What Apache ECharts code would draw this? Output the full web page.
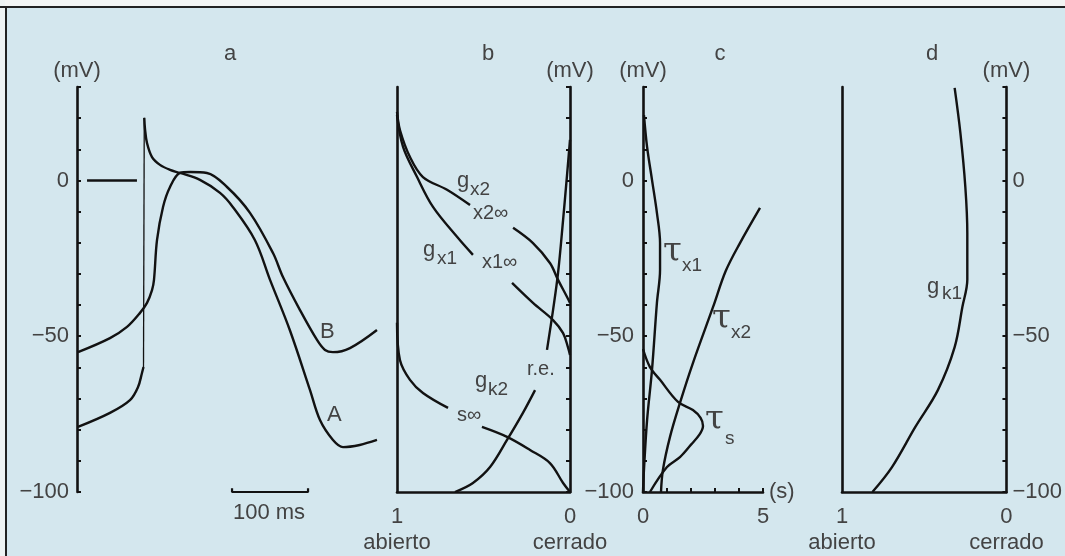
<!DOCTYPE html>
<html><head><meta charset="utf-8">
<script src="https://cdn.jsdelivr.net/npm/echarts@6/dist/echarts.min.js"></script>
<style>html,body{margin:0;padding:0;background:#d4e7ee}#c{width:1065px;height:556px}</style>
</head><body><div id="c"></div>
<script>
// ---------- DATA ----------
// Panel a: action potentials, [time (ms), membrane potential (mV)]
const curveA_foot = [[1.3,-79.1],[43.4,-74.6],[69.7,-70.5],[80.3,-66.3],[85.5,-61.8],[87.5,-59.9]];
const curveA_plateau = [[88.5,20.1],[89.5,16.5],[92.1,12.0],[98.7,7.5],[109.2,5.0],[122.4,3.4],[135.5,2.4],[161.8,0.2],[188.2,-4.0],[205,-8.5],[234,-19.1],[254,-31.9],[280,-48.0],[306.6,-67.3],[319.7,-76.9],[336.8,-83.3],[350,-85.6],[372,-84.9],[394.7,-83.3]];
const curveB = [[1.3,-55.1],[43.4,-50.6],[65.8,-47.0],[82.9,-42.5],[92.1,-39.3],[98.7,-35.2],[101.3,-31.9],[105.3,-19.1],[113.2,-8.5],[122.4,-2.1],[135.5,2.4],[148.7,2.7],[171,2.4],[197.4,-2.1],[227.6,-10.4],[257.9,-23.3],[271,-31.0],[293.4,-41.6],[315.8,-51.2],[326.3,-54.4],[336.8,-55.1],[359.2,-53.8],[394.7,-48.0]];
const zeroLine = [[13.2,0],[78.9,0]];
const scaleBarMs = [204, 304];      // 100 ms scale bar
const scaleBarLevel = -100;

// Panel b: steady-state / conductance curves, [fraction open (1..0), mV]
const gx2_a = [[1,22],[0.983,16.2],[0.925,7.5],[0.85,1.1],[0.711,-3.0],[0.578,-7.9]];
const gx2_b = [[0.329,-15.2],[0.214,-20.1],[0.116,-26.5],[0.069,-31.9],[0.017,-37.4],[0,-39.3]];
const gx1_a = [[1,21],[0.965,10.8],[0.884,1.1],[0.792,-8.5],[0.653,-18.1],[0.561,-23.9]];
const gx1_b = [[0.335,-32.9],[0.214,-39.3],[0.098,-44.8],[0.04,-49.0],[0.012,-53.5],[0,-56.0]];
const reCurve = [[0.133,-54.4],[0.098,-41.6],[0.069,-29.7],[0.04,-12.7],[0.017,1.8],[0,13.0]];
const sInf_a = [[1,-45.7],[0.983,-57.6],[0.925,-64.0],[0.85,-68.2],[0.705,-73.0]];
const sInf_b = [[0.509,-79.1],[0.364,-82.3],[0.231,-86.5],[0.116,-90.7],[0.04,-97.1],[0,-100]];
const gk2 = [[0.665,-100],[0.561,-97.1],[0.462,-92.0],[0.364,-83.3],[0.272,-74.6],[0.202,-67.3]];

// Panel c: time constants, [s, mV]
const tauX1 = [[0.04,21.0],[0.17,10.8],[0.375,0.2],[0.58,-10.4],[0.71,-20.1],[0.71,-28.7],[0.58,-39.3],[0.375,-60.8],[0.17,-76.9],[0.04,-92.9],[0,-100]];
const tauX2 = [[4.875,-8.8],[4.04,-20.1],[3.45,-29.0],[2.92,-40.6],[2.08,-58.6],[1.54,-71.4],[1.125,-82.3],[0.83,-92.9],[0.75,-100]];
const tauS = [[0,-54.1],[0.29,-59.9],[0.71,-64.0],[1.46,-71.1],[2.08,-73.7],[2.4,-76.2],[2.5,-78.8],[2.35,-81.6],[2.0,-84.8],[1.54,-88.8],[1.0,-92.0],[0.29,-100]];

// Panel d: gK1, [fraction open, mV]
const gk1 = [[0.315,29.7],[0.28,15.2],[0.25,-2.1],[0.238,-16.9],[0.238,-31.9],[0.268,-40.6],[0.315,-53.5],[0.417,-67.3],[0.554,-79.1],[0.696,-92.0],[0.815,-100]];

// Tick labels
const mVLabels = [0, -50, -100];
const fracLabels = {1: '1\nabierto', 0: '0\ncerrado'};
const secLabels = [0, 5];

// ---------- STYLE ----------
const INK = '#121212', TXT = '#434343';
const FONT = 'Liberation Sans, Arial, sans-serif';
const fmtMV = v => mVLabels.indexOf(v) >= 0 ? (v < 0 ? '\u2212' + Math.abs(v) : String(v)) : '';
const axLine = {show: true, onZero: false, lineStyle: {color: INK, width: 2.6}};
const ticks = {show: true, inside: true, length: 4, lineStyle: {color: INK, width: 2}};
const nameStyle = {color: TXT, fontSize: 22, fontFamily: FONT};

function mvAxis(grid, pos, opts) {
  return Object.assign({
    type: 'value', gridIndex: grid, position: pos, min: -100, max: 30, interval: 10,
    axisLine: axLine, axisTick: ticks, splitLine: {show: false},
    axisLabel: {show: false}
  }, opts || {});
}
function fracAxis(grid) {
  return {
    type: 'value', gridIndex: grid, position: 'bottom', min: 0, max: 1, interval: 1, inverse: true,
    axisLine: axLine, axisTick: {show: false}, splitLine: {show: false},
    axisLabel: {show: true, margin: 12, color: TXT, fontSize: 22, fontFamily: FONT, lineHeight: 26,
      showMinLabel: true, showMaxLabel: true, formatter: v => fracLabels[v] || ''}
  };
}
function curve(x, y, data, w) {
  return {type: 'line', xAxisIndex: x, yAxisIndex: y, data: data, smooth: 0.35, showSymbol: false,
    symbol: 'none', clip: false, silent: true, lineStyle: {color: INK, width: w || 2.4}};
}

const chart = echarts.init(document.getElementById('c'), null, {renderer: 'canvas'});

const upstroke = [curveA_foot[curveA_foot.length - 1], curveA_plateau[0]];
const scaleBar = [[scaleBarMs[0], scaleBarLevel + 1.2], [scaleBarMs[0], scaleBarLevel], [scaleBarMs[1], scaleBarLevel], [scaleBarMs[1], scaleBarLevel + 1.2]];

function txt(x, y, t, size, align, family) {
  return {type: 'text', silent: true, style: {x: x, y: y, text: t, fill: TXT,
    font: (size || 22) + 'px ' + (family || FONT), align: align || 'left', verticalAlign: 'middle'}};
}
const TAU = 'DejaVu Serif, serif';

chart.setOption({
  animation: false,
  backgroundColor: '#d4e7ee',
  grid: [
    {left: 77, top: 87, width: 304, height: 405},
    {left: 397, top: 87, width: 173, height: 405},
    {left: 643, top: 87, width: 120, height: 405},
    {left: 842, top: 87, width: 168, height: 405}
  ],
  xAxis: [
    {type: 'value', gridIndex: 0, min: 0, max: 400, show: false},
    fracAxis(1),
    {type: 'value', gridIndex: 2, position: 'bottom', min: 0, max: 5, interval: 1,
      axisLine: axLine, axisTick: ticks, splitLine: {show: false},
      name: '(s)', nameLocation: 'end', nameGap: 6, nameTextStyle: Object.assign({padding: [0, 0, 6, 0]}, nameStyle),
      axisLabel: {show: true, margin: 14, color: TXT, fontSize: 22, fontFamily: FONT,
        formatter: v => secLabels.indexOf(v) >= 0 ? String(v) : ''}},
    fracAxis(3)
  ],
  yAxis: [
    mvAxis(0, 'left', {name: '(mV)', nameGap: 5, nameTextStyle: nameStyle,
      axisLabel: {show: true, margin: 8, color: TXT, fontSize: 22, fontFamily: FONT, formatter: fmtMV}}),
    mvAxis(1, 'left', {axisTick: {show: false}}),
    mvAxis(1, 'right', {name: '(mV)', nameGap: 5, nameTextStyle: nameStyle}),
    mvAxis(2, 'left', {name: '(mV)', nameGap: 5, nameTextStyle: nameStyle,
      axisLabel: {show: true, margin: 9, color: TXT, fontSize: 22, fontFamily: FONT, formatter: fmtMV}}),
    mvAxis(3, 'left', {axisTick: {show: false}}),
    mvAxis(3, 'right', {name: '(mV)', nameGap: 5, nameTextStyle: nameStyle,
      axisLabel: {show: true, margin: 6, color: TXT, fontSize: 22, fontFamily: FONT, formatter: fmtMV}})
  ],
  series: [
    curve(0, 0, curveA_foot),
    curve(0, 0, upstroke, 1.3),
    curve(0, 0, curveA_plateau),
    curve(0, 0, curveB),
    Object.assign(curve(0, 0, zeroLine), {smooth: false}),
    Object.assign(curve(0, 0, scaleBar, 2.2), {smooth: false}),
    curve(1, 1, gx2_a), curve(1, 1, gx2_b),
    curve(1, 1, gx1_a), curve(1, 1, gx1_b),
    curve(1, 1, reCurve),
    curve(1, 1, sInf_a), curve(1, 1, sInf_b),
    curve(1, 1, gk2),
    curve(2, 3, tauX1), curve(2, 3, tauX2), curve(2, 3, tauS),
    curve(3, 4, gk1)
  ],
  graphic: [
    {type: 'rect', silent: true, shape: {x: 0, y: 0, width: 1065, height: 6}, style: {fill: '#f3f5f4'}},
    {type: 'rect', silent: true, shape: {x: 0, y: 0, width: 5, height: 556}, style: {fill: '#eef3f3'}},
    {type: 'line', silent: true, shape: {x1: 0, y1: 7, x2: 1065, y2: 7}, style: {stroke: '#222', lineWidth: 2}},
    {type: 'line', silent: true, shape: {x1: 6, y1: 7, x2: 6, y2: 556}, style: {stroke: '#222', lineWidth: 2}},
    txt(230, 54, 'a', 22, 'center'), txt(488, 54, 'b', 22, 'center'),
    txt(720, 54, 'c', 22, 'center'), txt(932, 54, 'd', 22, 'center'),
    txt(320, 332, 'B'), txt(327, 415, 'A'), txt(269, 513, '100 ms', 22, 'center'),
    txt(457, 181, 'g'), txt(470, 190, 'x2', 19),
    txt(473, 213, 'x2\u221e', 20),
    txt(423, 250, 'g'), txt(437, 259, 'x1', 19),
    txt(482, 262, 'x1\u221e', 20),
    txt(527, 369, 'r.e.', 20),
    txt(475, 381, 'g'), txt(488, 390, 'k2', 19),
    txt(457, 415, 's\u221e', 20),
    txt(663, 252, '\u03c4', 34, 'left', TAU), txt(682, 266, 'x1', 19),
    txt(712, 319, '\u03c4', 34, 'left', TAU), txt(731, 333, 'x2', 19),
    txt(705, 420, '\u03c4', 34, 'left', TAU), txt(725, 439, 's', 19),
    txt(927, 287, 'g'), txt(942, 294, 'k1', 19)
  ]
});
</script></body></html>
